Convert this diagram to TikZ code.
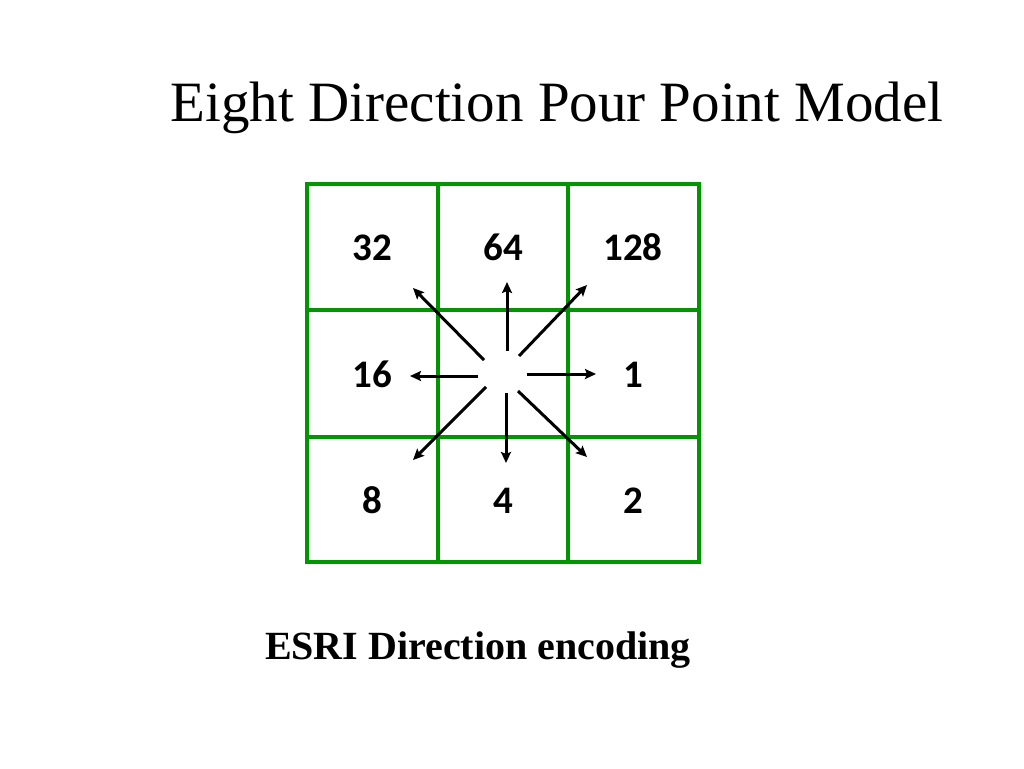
\documentclass[tikz,border=0pt]{standalone}
\usepackage{fontspec}
\setmainfont{Liberation Serif}
\newfontfamily\numfont{Carlito}
\usetikzlibrary{arrows.meta}
\definecolor{gridgreen}{RGB}{0,150,0}
\begin{document}
\begin{tikzpicture}[x=1pt,y=-1pt,
  gridline/.style={draw=gridgreen,line width=4pt},
  num/.style={font=\numfont\bfseries\fontsize{39}{42}\selectfont,inner sep=0pt,anchor=base},
  dirarrow/.style={line width=3pt,-{Stealth[length=11pt,width=10pt,inset=2pt]}}]
\useasboundingbox (0,0) rectangle (1024,768);
\node[anchor=base,inner sep=0pt,font=\fontsize{57}{61}\selectfont] (title) at (557,121) {Eight Direction Pour Point Model};
\node[anchor=base,inner sep=0pt,font=\bfseries\fontsize{40}{44}\selectfont] (caption) at (478,659) {ESRI Direction encoding};
% grid
\draw[gridline] (307,184) rectangle (699,562);
\draw[gridline] (438,184) -- (438,562);
\draw[gridline] (568,184) -- (568,562);
\draw[gridline] (307,310) -- (699,310);
\draw[gridline] (307,437) -- (699,437);
% numbers
\node[num] (n32) at (372,260) {32};
\node[num] (n64) at (503,260) {64};
\node[num] (n128) at (633,260) {128};
\node[num] (n16) at (372,387) {16};
\node[num] (n1) at (633,387) {1};
\node[num] (n8) at (372,513) {8};
\node[num] (n4) at (503,513) {4};
\node[num] (n2) at (633,513) {2};
% arrow coordinates
\coordinate (sNW) at (484,360); \coordinate (eNW) at (413,288);
\coordinate (sN) at (507,351);  \coordinate (eN) at (507,282);
\coordinate (sNE) at (519,356); \coordinate (eNE) at (587,285);
\coordinate (sW) at (478,376);  \coordinate (eW) at (410,376);
\coordinate (sE) at (527,374);  \coordinate (eE) at (596,374);
\coordinate (sSW) at (486,387); \coordinate (eSW) at (413,460);
\coordinate (sS) at (506,393);  \coordinate (eS) at (506,463);
\coordinate (sSE) at (518,391); \coordinate (eSE) at (587,457);
\foreach \d in {NW,N,NE,W,E,SW,S,SE}
  \draw[dirarrow] (s\d) -- (e\d);
\end{tikzpicture}
\end{document}
